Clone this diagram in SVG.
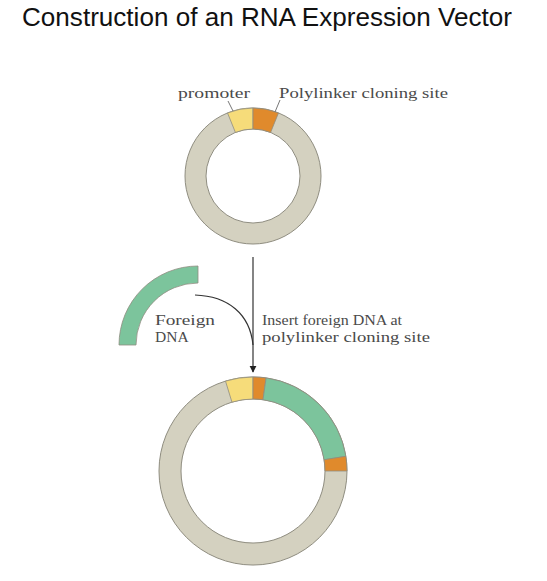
<svg xmlns="http://www.w3.org/2000/svg" width="547" height="581" viewBox="0 0 547 581">
<style>
.title{font-family:"Liberation Sans",Arial,sans-serif;font-size:26px;fill:#111}
.lbl{font-family:"Liberation Serif","Times New Roman",serif;font-size:15.5px;fill:#4a4a4a}
.ring{fill:#d4d1c0;stroke:#8f8d80;stroke-width:1;fill-rule:evenodd}
.prom{fill:#f6dc7a;stroke:#8f8d80;stroke-width:0.8}
.poly{fill:#e08a2c;stroke:#8f8d80;stroke-width:0.8}
.dna{fill:#7cc49c;stroke:#8f8d80;stroke-width:0.8}
.lead{stroke:#777;stroke-width:1;fill:none}
.conn{stroke:#333;stroke-width:1.2;fill:none}
</style>
<defs>
<marker id="ah" viewBox="0 0 10 10" refX="9" refY="5" markerWidth="7" markerHeight="9" markerUnits="userSpaceOnUse" orient="auto">
<path d="M0,0 L10,5 L0,10 Z" fill="#222"/>
</marker>
</defs>
<text class="title" x="22" y="26" textLength="490" lengthAdjust="spacingAndGlyphs">Construction of an RNA Expression Vector</text>

<g id="vector">
<path class="ring" d="M185,176 a68,68 0 1,0 136,0 a68,68 0 1,0 -136,0 Z M206,176 a47,47 0 1,0 94,0 a47,47 0 1,0 -94,0 Z"/>
<path class="prom" d="M227.53,112.95 A68,68 0 0 1 253,108 L253,129 A47,47 0 0 0 235.4,132.42 Z"/>
<path class="poly" d="M253,108 A68,68 0 0 1 278.47,112.95 L270.6,132.42 A47,47 0 0 0 253,129 Z"/>
<text class="lbl" x="178" y="98" textLength="72" lengthAdjust="spacingAndGlyphs">promoter</text>
<text class="lbl" x="279" y="98" textLength="169" lengthAdjust="spacingAndGlyphs">Polylinker cloning site</text>
<line class="lead" x1="228" y1="101" x2="233" y2="111"/>
<line class="lead" x1="280" y1="100" x2="275" y2="112"/>
</g>

<g id="foreign-dna">
<path class="dna" d="M119,345 A79,79 0 0 1 198,266 L198,283 A62,62 0 0 0 136,345 Z"/>
<text class="lbl" x="155" y="325" textLength="60" lengthAdjust="spacingAndGlyphs">Foreign</text>
<text class="lbl" x="155" y="342">DNA</text>
</g>

<g id="connectors">
<line class="conn" x1="253" y1="257" x2="253" y2="372" marker-end="url(#ah)"/>
<path class="conn" d="M195,295 C228,296 250,314 253,345"/>
<text class="lbl" x="262" y="325" textLength="140" lengthAdjust="spacingAndGlyphs">Insert foreign DNA at</text>
<text class="lbl" x="262" y="342" textLength="168" lengthAdjust="spacingAndGlyphs">polylinker cloning site</text>
</g>

<g id="recombinant">
<path class="ring" d="M159,471 a94,94 0 1,0 188,0 a94,94 0 1,0 -188,0 Z M181,471 a72,72 0 1,0 144,0 a72,72 0 1,0 -144,0 Z"/>
<path class="prom" d="M225.51,381.11 A94,94 0 0 1 253,377 L253,399 A72,72 0 0 0 231.95,402.15 Z"/>
<path class="poly" d="M253,377 A94,94 0 0 1 266.08,377.91 L263.02,399.7 A72,72 0 0 0 253,399 Z"/>
<path class="dna" d="M266.08,377.91 A94,94 0 0 1 345.84,456.3 L324.11,459.74 A72,72 0 0 0 263.02,399.7 Z"/>
<path class="poly" d="M345.84,456.3 A94,94 0 0 1 347,471 L325,471 A72,72 0 0 0 324.11,459.74 Z"/>
</g>
</svg>
